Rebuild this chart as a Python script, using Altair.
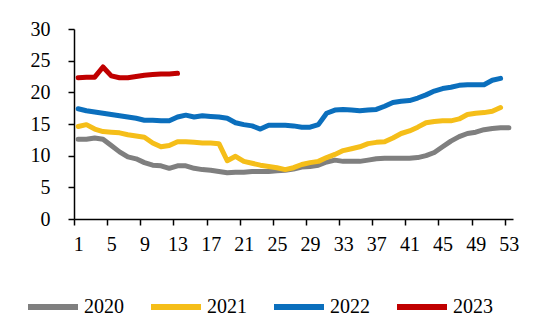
import altair as alt
import pandas as pd

series_names = ["2020", "2021", "2022", "2023"]
series_colors = ["#7f7f7f", "#f5be19", "#0b6fbd", "#c00000"]

v2020 = [12.6, 12.6, 12.8, 12.6, 11.6, 10.6, 9.8, 9.5, 8.9, 8.5,
         8.4, 8.0, 8.4, 8.4, 8.0, 7.8, 7.7, 7.5, 7.3, 7.4,
         7.4, 7.5, 7.5, 7.5, 7.6, 7.7, 7.9, 8.2, 8.3, 8.5,
         9.0, 9.3, 9.1, 9.1, 9.1, 9.3, 9.5, 9.6, 9.6, 9.6,
         9.6, 9.7, 10.0, 10.5, 11.4, 12.3, 13.0, 13.5, 13.7, 14.1,
         14.3, 14.4, 14.4]
v2021 = [14.6, 14.9, 14.2, 13.8, 13.7, 13.6, 13.3, 13.1, 12.9, 12.0,
         11.4, 11.6, 12.2, 12.2, 12.1, 12.0, 12.0, 11.9, 9.2, 9.9,
         9.1, 8.8, 8.5, 8.3, 8.1, 7.8, 8.1, 8.6, 8.9, 9.1,
         9.7, 10.2, 10.8, 11.1, 11.4, 11.9, 12.1, 12.2, 12.8, 13.5,
         13.9, 14.5, 15.2, 15.4, 15.5, 15.5, 15.8, 16.5, 16.7, 16.8,
         17.0, 17.6]
v2022 = [17.4, 17.1, 16.9, 16.7, 16.5, 16.3, 16.1, 15.9, 15.6, 15.6,
         15.5, 15.5, 16.1, 16.4, 16.1, 16.3, 16.2, 16.1, 15.9, 15.2,
         14.9, 14.7, 14.2, 14.8, 14.8, 14.8, 14.7, 14.5, 14.5, 14.9,
         16.7, 17.2, 17.3, 17.2, 17.1, 17.2, 17.3, 17.8, 18.4, 18.6,
         18.7, 19.1, 19.6, 20.2, 20.6, 20.8, 21.1, 21.2, 21.2, 21.2,
         21.9, 22.2]
v2023 = [22.3, 22.4, 22.4, 24.0, 22.6, 22.3, 22.3, 22.5, 22.7, 22.8,
         22.9, 22.9, 23.0]

x_tick_values = [1, 5, 9, 13, 17, 21, 25, 29, 33, 37, 41, 45, 49, 53]
y_tick_values = [0, 5, 10, 15, 20, 25, 30]

rows = []
for name, vals in zip(series_names, [v2020, v2021, v2022, v2023]):
    for i, v in enumerate(vals):
        rows.append({"week": i + 1, "value": v, "year": name})
df = pd.DataFrame(rows)

W, H = 439, 190
half_cat = W / 53 / 2
FONT = "Liberation Serif"

chart = alt.Chart(df).mark_line(
    strokeWidth=5, strokeCap="round", strokeJoin="round"
).encode(
    x=alt.X("week:Q",
            scale=alt.Scale(domain=[0.5, 53.5], nice=False, zero=False),
            axis=alt.Axis(values=x_tick_values, title=None, grid=False,
                          tickOffset=-half_cat, labelOffset=half_cat,
                          tickSize=6, labelPadding=9, labelFlush=False,
                          labelOverlap=False,
                          domainColor="black", tickColor="black",
                          domainWidth=1.5, tickWidth=1.5)),
    y=alt.Y("value:Q",
            scale=alt.Scale(domain=[0, 30], nice=False),
            axis=alt.Axis(values=y_tick_values, title=None, grid=False,
                          tickSize=6, labelPadding=18, labelFlush=False,
                          domainColor="black", tickColor="black",
                          domainWidth=1.5, tickWidth=1.5)),
    color=alt.Color("year:N",
                    scale=alt.Scale(domain=series_names, range=series_colors),
                    legend=alt.Legend(title=None, orient="none",
                                      direction="horizontal", columns=4,
                                      legendX=-49, legendY=250,
                                      symbolType="stroke", symbolSize=2500,
                                      symbolStrokeWidth=6, labelOffset=3,
                                      columnPadding=15,
                                      labelFont=FONT, labelFontSize=20,
                                      labelColor="black")),
    order=alt.Order("year:N"),
).properties(
    width=W, height=H,
    autosize=alt.AutoSizeParams(type="none"),
    padding={"left": 74, "top": 29, "right": 37, "bottom": 115},
).configure_view(
    stroke=None
).configure_axis(
    labelFont=FONT, labelFontSize=20, labelColor="black"
)

chart.save("out.html", embed_options={"renderer": "svg", "actions": False})
